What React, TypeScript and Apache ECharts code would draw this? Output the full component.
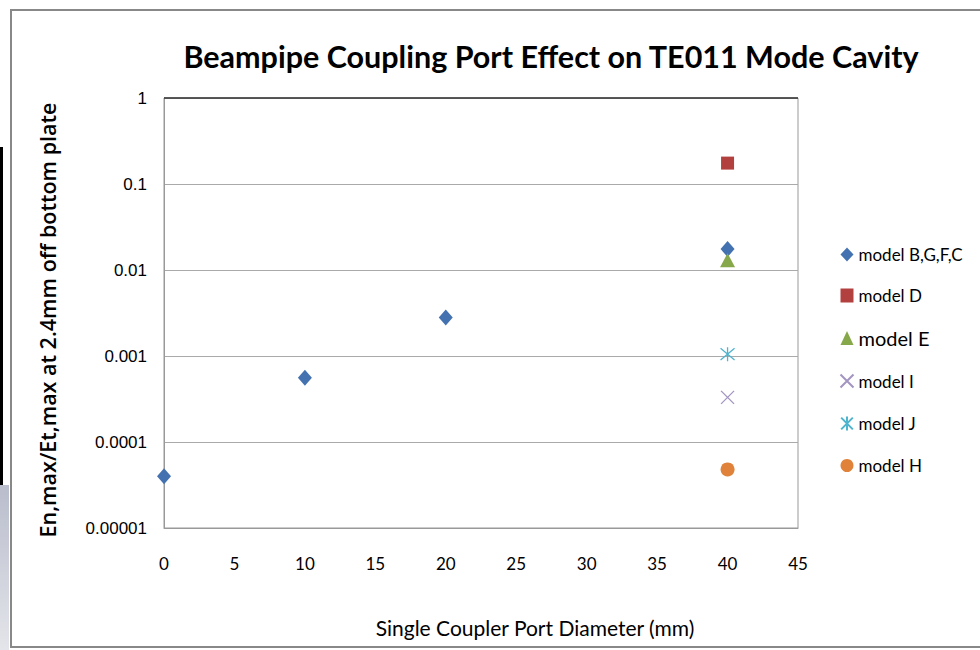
import React, { useEffect, useRef } from "react";
import * as echarts from "echarts";

const title = "Beampipe Coupling Port Effect on TE011 Mode Cavity";
const xName = "Single Coupler Port Diameter (mm)";
const yName = "En,max/Et,max at 2.4mm off bottom plate";

const seriesNames = ["model B,G,F,C", "model D", "model E", "model I", "model J", "model H"];
const modelBGFC: [number, number][] = [[0, 0.00004], [10, 0.00056], [20, 0.0028], [40, 0.0175]];
const modelD: [number, number][] = [[40, 0.175]];
const modelE: [number, number][] = [[40, 0.013]];
const modelI: [number, number][] = [[40, 0.00033]];
const modelJ: [number, number][] = [[40, 0.00105]];
const modelH: [number, number][] = [[40, 0.000048]];

const crossPath = "path://M0,0L10,10M10,0L0,10";
const starPath = "path://M0,0L10,10M10,0L0,10M5,-1L5,11";

export default function App() {
  const ref = useRef<HTMLDivElement>(null);
  useEffect(() => {
    if (!ref.current) return;
    const chart = echarts.init(ref.current, null, { renderer: "svg" });
    const grid = { left: 164, top: 98, width: 634, height: 430 };
    chart.setOption({
      animation: false,
      backgroundColor: "#ffffff",
      title: {
        text: title,
        left: 546,
        top: 35,
        textAlign: "center",
        textStyle: { fontFamily: "Lato", fontWeight: "bold", fontSize: 30.5, color: "#000" },
      },
      grid: { ...grid, show: true, borderColor: "#999", borderWidth: 1, backgroundColor: "transparent" },
      xAxis: {
        type: "value",
        min: 0,
        max: 45,
        interval: 5,
        name: xName,
        nameLocation: "middle",
        nameGap: 89,
        nameTextStyle: { fontFamily: "Lato", fontSize: 21, color: "#000", padding: [0, 0, 0, 108] },
        axisLine: { show: true, lineStyle: { color: "#999" } },
        axisTick: { show: false },
        splitLine: { show: false },
        axisLabel: { fontFamily: "Liberation Sans Narrow, Lato", fontSize: 17, color: "#000", margin: 27 },
      },
      yAxis: {
        type: "log",
        logBase: 10,
        min: 0.00001,
        max: 1,
        name: yName,
        nameLocation: "middle",
        nameGap: 106,
        nameTextStyle: { fontFamily: "Open Sans", fontSize: 21.5, color: "#000", fontWeight: 600, padding: [0, 14, 0, 0] },
        axisLine: { show: true, lineStyle: { color: "#999" } },
        axisTick: { show: false },
        splitLine: { show: true, lineStyle: { color: "#aaa", width: 1.2 } },
        axisLabel: {
          fontFamily: "Liberation Sans",
          fontSize: 17,
          color: "#000",
          margin: 17,
          formatter: (v: number) => {
            const k = String(+v.toPrecision(3));
            return v < 0.0001 ? "0.00001" : k;
          },
        },
      },
      legend: {
        orient: "vertical",
        left: 833,
        top: 241,
        itemGap: 24,
        itemWidth: 13,
        itemHeight: 14,
        itemStyle: { opacity: 1 },
        textStyle: { fontFamily: "Lato", fontSize: 17, color: "#000" },
        data: [
          { name: seriesNames[0] },
          { name: seriesNames[1] },
          { name: seriesNames[2], textStyle: { fontSize: 20 } },
          { name: seriesNames[3] },
          { name: seriesNames[4] },
          { name: seriesNames[5] },
        ],
      },
      graphic: [
        {
          type: "line",
          shape: { x1: grid.left, y1: grid.top, x2: grid.left + grid.width, y2: grid.top },
          style: { stroke: "#333", lineWidth: 1.5 },
          z: 10,
        },
        {
          type: "polyline",
          shape: { points: [[990, 10], [11, 10], [11, 647], [990, 647]] },
          style: { fill: "none", stroke: "#888", lineWidth: 2 },
          z: 10,
        },
        {
          type: "rect",
          shape: { x: 0, y: 147, width: 3, height: 338 },
          style: { fill: "#000" },
        },
        {
          type: "rect",
          shape: { x: 0, y: 485, width: 9, height: 165 },
          style: {
            fill: new echarts.graphic.LinearGradient(0, 0, 0, 1, [
              { offset: 0, color: "#b9bdcc" },
              { offset: 1, color: "#e4e5ea" },
            ]),
          },
        },
      ],
      series: [
        { name: seriesNames[0], type: "scatter", data: modelBGFC, symbol: "diamond", symbolSize: [14, 16], itemStyle: { color: "#4472b0", opacity: 1 } },
        { name: seriesNames[1], type: "scatter", data: modelD, symbol: "rect", symbolSize: 13, itemStyle: { color: "#b2403f", opacity: 1 } },
        { name: seriesNames[2], type: "scatter", data: modelE, symbol: "triangle", symbolSize: [15, 14], itemStyle: { color: "#87a84a", opacity: 1 } },
        { name: seriesNames[3], type: "scatter", data: modelI, symbol: crossPath, symbolSize: 13, itemStyle: { color: "none", borderColor: "#a395c2", borderWidth: 1.3, opacity: 1 } },
        { name: seriesNames[4], type: "scatter", data: modelJ, symbol: starPath, symbolSize: 14, itemStyle: { color: "none", borderColor: "#4fb4ce", borderWidth: 1.3, opacity: 1 } },
        { name: seriesNames[5], type: "scatter", data: modelH, symbol: "circle", symbolSize: 14, itemStyle: { color: "#e0823a", opacity: 1 } },
      ],
    });
    return () => chart.dispose();
  }, []);
  return <div ref={ref} style={{ width: 980, height: 650, position: "absolute", left: 0, top: 0 }} />;
}
